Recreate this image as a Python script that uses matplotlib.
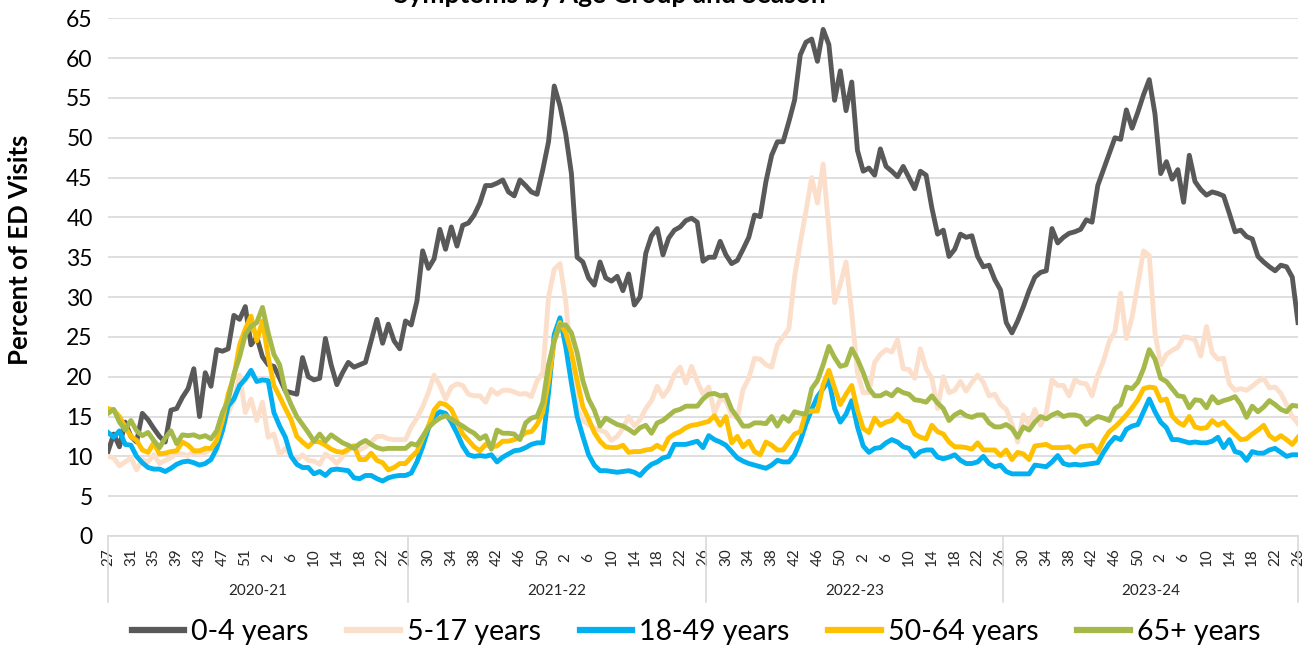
import numpy as np
import matplotlib.pyplot as plt
from matplotlib.transforms import blended_transform_factory

plt.rcParams['font.family'] = ['Lato', 'DejaVu Sans']

# seasons and their week numbers (2020-21 has a week 53)
seasons = ["2020-21", "2021-22", "2022-23", "2023-24"]
season_weeks = [
    list(range(27, 54)) + list(range(1, 27)),
    list(range(27, 53)) + list(range(1, 27)),
    list(range(27, 53)) + list(range(1, 27)),
    list(range(27, 53)) + list(range(1, 27)),
]
weeks = [w for s in season_weeks for w in s]

age_0_4 = [
    10.6, 12.8, 11.2, 14.3, 12.5, 11.8, 15.4, 14.6, 13.5, 12.5,
    11.8, 15.8, 16.0, 17.4, 18.5, 21.0, 15.0, 20.5, 18.8, 23.4,
    23.2, 23.5, 27.7, 27.2, 28.8, 24.0, 25.0, 22.5, 21.5, 21.3,
    19.8, 18.2, 18.0, 17.8, 22.4, 20.0, 19.6, 19.8, 24.8, 21.5,
    19.0, 20.5, 21.8, 21.2, 21.5, 21.8, 24.5, 27.2, 24.2, 26.6,
    24.5, 23.5, 27.0, 26.5, 29.5, 35.8, 33.6, 34.8, 38.5, 36.0,
    38.8, 36.4, 39.0, 39.3, 40.3, 41.8, 44.0, 44.0, 44.3, 44.7,
    43.2, 42.7, 44.7, 44.0, 43.2, 42.9, 46.0, 49.5, 56.5, 54.0,
    50.5, 45.5, 35.0, 34.4, 32.4, 31.5, 34.4, 32.4, 32.0, 32.6,
    30.8, 32.9, 29.0, 30.0, 35.5, 37.7, 38.6, 35.3, 37.4, 38.4,
    38.8, 39.6, 39.9, 39.4, 34.5, 35.0, 35.0, 37.0, 35.3, 34.2,
    34.6, 36.0, 37.5, 40.3, 40.1, 44.5, 47.8, 49.5, 49.5, 52.0,
    54.7, 60.4, 62.0, 62.4, 59.6, 63.6, 61.7, 54.7, 58.4, 53.4,
    57.0, 48.4, 45.8, 46.2, 45.3, 48.6, 46.4, 45.8, 45.1, 46.4,
    45.0, 43.6, 45.8, 45.3, 41.2, 37.9, 38.4, 35.1, 36.0, 37.9,
    37.5, 37.7, 35.1, 33.8, 34.0, 32.2, 30.9, 26.8, 25.5, 27.0,
    28.8, 30.8, 32.5, 33.1, 33.3, 38.6, 36.8, 37.5, 38.0, 38.2,
    38.5, 39.7, 39.4, 44.0, 46.0, 48.0, 50.0, 49.8, 53.5, 51.2,
    53.2, 55.4, 57.3, 53.0, 45.5, 47.0, 44.8, 46.0, 41.9, 47.8,
    44.5, 43.5, 42.8, 43.2, 43.0, 42.7, 40.5, 38.2, 38.4, 37.6,
    37.3, 35.1, 34.4, 33.8, 33.3, 34.0, 33.8, 32.5, 26.8,
]

age_5_17 = [
    10.0, 9.8, 8.8, 9.3, 9.8, 8.3, 9.6, 9.3, 10.2, 9.1,
    9.5, 9.8, 10.4, 10.3, 10.1, 10.6, 10.2, 10.5, 10.9, 11.8,
    13.5, 15.5, 17.0, 20.2, 15.5, 17.2, 14.5, 16.8, 12.4, 12.8,
    10.2, 11.0, 10.0, 9.5, 10.2, 9.5, 9.4, 9.0, 10.3, 9.8,
    9.1, 10.0, 10.8, 11.4, 10.8, 11.2, 11.8, 12.5, 12.5, 12.2,
    12.1, 12.1, 12.1, 13.7, 14.8, 16.2, 18.0, 20.2, 18.9, 17.2,
    18.7, 19.1, 18.9, 17.8, 17.6, 17.6, 16.8, 18.4, 17.8, 18.3,
    18.3, 18.1, 17.8, 17.9, 17.5, 19.5, 20.5, 30.0, 33.5, 34.2,
    29.5, 22.0, 16.0, 14.5, 14.0, 13.5, 13.3, 13.0, 12.0, 12.5,
    13.5, 15.0, 13.8, 14.6, 16.0, 17.0, 18.8, 17.5, 18.5, 20.3,
    21.2, 19.2, 21.3, 19.4, 17.8, 18.7, 15.4, 17.2, 17.0, 15.2,
    14.8, 18.4, 19.8, 22.3, 22.2, 21.5, 21.2, 24.0, 25.0, 26.0,
    32.5, 36.8, 40.8, 45.0, 41.8, 46.7, 38.5, 29.3, 31.6, 34.4,
    28.0, 20.5, 18.0, 18.0, 21.8, 22.8, 23.4, 23.1, 24.6, 21.0,
    20.9, 19.8, 23.5, 21.0, 19.8, 16.0, 20.0, 18.0, 18.3, 19.4,
    18.2, 19.3, 20.2, 19.3, 17.6, 17.8, 16.5, 15.9, 14.1, 11.8,
    15.2, 13.9, 15.9, 13.9, 15.5, 19.6, 18.9, 18.9, 17.6, 19.6,
    19.2, 19.1, 17.6, 20.2, 22.0, 24.4, 25.7, 30.5, 24.8, 27.5,
    31.6, 35.8, 35.2, 25.5, 21.5, 22.8, 23.3, 23.7, 25.0, 24.9,
    24.6, 22.6, 26.3, 23.0, 22.2, 22.3, 19.1, 18.3, 18.5, 18.3,
    18.8, 19.4, 19.8, 18.6, 18.7, 17.9, 16.5, 15.0, 14.1,
]

age_18_49 = [
    13.0, 12.4, 13.2, 11.5, 11.4, 10.0, 9.2, 8.6, 8.4, 8.4,
    8.1, 8.5, 9.0, 9.3, 9.4, 9.2, 8.9, 9.1, 9.6, 11.0,
    13.2, 16.3, 17.2, 18.9, 19.7, 20.8, 19.4, 19.6, 19.5, 15.5,
    13.8, 12.4, 10.0, 9.0, 8.6, 8.6, 7.8, 8.1, 7.6, 8.3,
    8.4, 8.3, 8.2, 7.3, 7.2, 7.6, 7.6, 7.2, 6.9, 7.3,
    7.5, 7.6, 7.6, 7.9, 9.3, 11.2, 13.5, 15.0, 15.6, 15.4,
    14.3, 12.9, 11.3, 10.2, 10.0, 10.1, 10.0, 10.2, 9.3, 9.9,
    10.3, 10.7, 10.8, 11.1, 11.5, 11.7, 11.7, 18.0, 25.3, 27.4,
    23.8, 19.2, 15.0, 12.5, 10.2, 8.9, 8.2, 8.2, 8.1, 8.0,
    8.1, 8.2, 8.0, 7.6, 8.4, 9.0, 9.3, 9.8, 10.0, 11.5,
    11.5, 11.5, 11.7, 11.9, 11.1, 12.6, 12.1, 11.8, 11.4, 10.6,
    9.8, 9.4, 9.1, 8.9, 8.7, 8.5, 8.9, 9.5, 9.3, 9.3,
    10.2, 11.9, 14.1, 15.9, 17.5, 18.5, 19.6, 16.0, 14.3, 15.3,
    17.0, 13.7, 11.3, 10.5, 11.0, 11.1, 11.7, 12.1, 11.8, 11.2,
    11.0, 10.0, 10.6, 10.8, 10.8, 9.9, 9.7, 9.9, 10.2, 9.5,
    9.1, 9.1, 9.3, 10.0, 9.1, 8.7, 8.9, 8.1, 7.8, 7.8,
    7.8, 7.8, 8.9, 8.8, 8.7, 9.3, 10.1, 9.1, 8.9, 9.0,
    8.9, 9.0, 9.1, 9.2, 10.5, 11.6, 12.4, 12.1, 13.4, 13.8,
    14.0, 15.6, 17.2, 15.6, 14.3, 13.6, 12.1, 12.1, 11.9, 11.7,
    11.8, 11.7, 11.7, 11.9, 12.4, 11.1, 12.1, 10.6, 10.4, 9.5,
    10.6, 10.4, 10.4, 10.8, 11.0, 10.5, 10.0, 10.2, 10.2,
]

age_50_64 = [
    16.0, 15.8, 15.0, 13.7, 12.5, 12.0, 10.8, 10.5, 11.7, 10.3,
    10.4, 10.6, 10.7, 11.8, 11.4, 10.7, 10.7, 11.0, 11.0, 12.0,
    14.5, 17.8, 20.0, 24.0, 26.0, 27.6, 24.5, 27.0, 22.5, 18.9,
    17.5, 16.0, 14.6, 12.5, 11.8, 11.2, 11.9, 11.8, 11.4, 10.9,
    10.6, 10.5, 10.9, 11.3, 9.6, 9.6, 10.4, 9.5, 9.2, 8.3,
    8.6, 9.1, 9.1, 9.9, 10.6, 12.3, 13.8, 15.8, 16.7, 16.5,
    15.9, 14.4, 12.8, 12.0, 11.2, 10.7, 11.5, 11.2, 11.3, 11.9,
    11.9, 12.1, 12.4, 13.0, 13.1, 14.0, 15.5, 19.5, 24.5, 26.8,
    25.5, 23.0, 19.5, 16.2, 14.7, 13.0, 11.9, 11.2, 11.1, 11.1,
    11.4, 10.5, 10.6, 10.6, 10.8, 10.9, 11.4, 10.9, 12.3, 12.8,
    13.1, 13.6, 13.9, 14.0, 14.2, 14.4, 15.1, 13.9, 15.0, 11.7,
    12.5, 11.2, 11.9, 10.6, 10.2, 11.8, 11.4, 10.8, 10.8, 11.8,
    12.8, 13.1, 15.5, 15.7, 15.7, 19.0, 20.8, 18.6, 16.5, 17.8,
    18.9, 15.8, 13.5, 13.0, 14.8, 13.9, 14.3, 14.5, 15.3, 14.5,
    14.3, 12.8, 12.4, 12.2, 13.9, 13.1, 12.8, 11.8, 11.2, 11.2,
    11.1, 10.9, 11.7, 10.8, 10.8, 10.8, 10.1, 10.8, 9.6, 10.5,
    10.3, 9.6, 11.3, 11.4, 11.5, 11.1, 11.1, 11.1, 11.2, 10.5,
    11.2, 11.3, 11.4, 10.5, 12.0, 13.1, 13.7, 14.4, 15.2, 16.1,
    17.1, 18.5, 18.7, 18.6, 17.0, 17.2, 15.1, 14.3, 13.9, 15.0,
    13.7, 13.5, 13.6, 14.5, 13.9, 14.3, 13.5, 12.8, 12.1, 12.2,
    12.8, 13.3, 13.9, 12.6, 12.1, 12.6, 12.1, 11.5, 12.4,
]

age_65p = [
    15.4, 15.9, 14.3, 13.3, 14.5, 13.2, 12.6, 13.0, 12.0, 11.1,
    12.3, 13.2, 11.6, 12.7, 12.6, 12.7, 12.4, 12.6, 12.2, 13.2,
    15.5, 17.0, 20.3, 22.5, 25.3, 26.3, 26.8, 28.7, 25.5, 22.8,
    21.5, 18.2, 16.5, 15.0, 14.0, 13.0, 11.9, 12.8, 11.9, 12.7,
    12.2, 11.7, 11.4, 11.0, 11.6, 12.0, 11.5, 11.1, 10.9, 11.0,
    11.0, 11.0, 11.0, 11.6, 11.4, 12.5, 13.6, 14.3, 14.8, 15.1,
    14.7, 14.2, 13.8, 13.3, 12.9, 12.2, 12.6, 10.9, 13.3, 12.9,
    12.9, 12.8, 12.1, 14.2, 14.8, 15.0, 16.8, 21.5, 24.5, 26.5,
    26.5, 25.5, 23.0, 19.5, 17.2, 15.8, 13.8, 14.8, 14.4, 14.0,
    13.8, 13.4, 12.9, 13.6, 13.9, 12.9, 14.2, 14.5, 15.1, 15.7,
    15.9, 16.3, 16.3, 16.3, 17.2, 17.8, 17.9, 17.6, 17.7, 15.9,
    14.9, 13.8, 13.8, 14.2, 14.2, 14.1, 15.0, 13.8, 15.0, 14.4,
    15.6, 15.4, 15.3, 18.5, 19.5, 21.5, 23.8, 22.4, 21.3, 21.5,
    23.5, 22.2, 20.5, 18.5, 17.6, 17.6, 18.0, 17.6, 18.4, 18.0,
    17.8, 17.1, 17.0, 16.8, 17.6, 16.7, 16.0, 14.5, 15.2, 15.6,
    15.1, 14.9, 15.2, 15.2, 14.2, 13.7, 13.7, 14.0, 13.5, 12.4,
    13.7, 13.3, 14.3, 15.0, 14.7, 15.2, 15.5, 15.0, 15.2, 15.2,
    15.0, 14.0, 14.6, 15.0, 14.8, 14.5, 16.0, 16.5, 18.7, 18.5,
    19.3, 21.0, 23.4, 22.2, 19.8, 19.4, 18.5, 17.6, 17.5, 16.1,
    17.1, 17.0, 16.1, 17.5, 16.7, 17.0, 17.2, 17.5, 16.5, 14.9,
    16.3, 15.6, 16.2, 17.0, 16.5, 15.9, 15.6, 16.4, 16.3,
]

series = [
    ("0-4 years", age_0_4, "#595959"),
    ("5-17 years", age_5_17, "#FCDFCB"),
    ("18-49 years", age_18_49, "#00B0F0"),
    ("50-64 years", age_50_64, "#FFC000"),
    ("65+ years", age_65p, "#A5B94B"),
]

W, H = 1304, 648
fig = plt.figure(figsize=(W / 100, H / 100), dpi=100)
ax = fig.add_axes([108 / W, 1 - 536 / H, (1298 - 108) / W, (536 - 18.3) / H])

x = np.arange(len(weeks))
for name, vals, col in series:
    ax.plot(x, vals, color=col, lw=3.5, label=name, solid_joinstyle='round')

ax.set_xlim(0, len(weeks) - 1)
ax.set_ylim(0, 65)
ax.set_yticks(range(0, 70, 5))
ax.yaxis.grid(True, color='#D9D9D9', lw=1.2)
ax.set_axisbelow(True)
for s in ['top', 'right', 'left']:
    ax.spines[s].set_visible(False)
ax.spines['bottom'].set_color('#D9D9D9')
ax.spines['bottom'].set_linewidth(1.2)

ax.tick_params(axis='y', length=0, pad=11, labelsize=16.5, labelcolor='black')
tick_pos = x[::4]
ax.set_xticks(tick_pos)
ax.set_xticklabels([str(weeks[i]) for i in tick_pos], rotation=90, va='center', ha='center')
ax.tick_params(axis='x', length=0, pad=15.5, labelsize=11, labelcolor='#262626')

# season group lines and labels under the week numbers
trans = blended_transform_factory(ax.transData, ax.transAxes)
bottom = -(602 - 536) / (536 - 18.3)
lengths = [len(s) for s in season_weeks]
edges = [0] + [c - 0.5 for c in np.cumsum(lengths)[:-1]] + [len(weeks) - 1]
for e in edges:
    ax.plot([e, e], [0, bottom], color='#D9D9D9', lw=1.2, transform=trans, clip_on=False)
for i, name in enumerate(seasons):
    ax.text((edges[i] + edges[i + 1]) / 2, -(591 - 536) / (536 - 18.3), name,
            transform=trans, ha='center', va='center', fontsize=11, color='#262626')

fig.text(20 / W, 1 - 250 / H, "Percent of ED Visits", rotation=90, ha='center', va='center',
         fontsize=18.5, fontweight='bold')
fig.text(610 / W, 1 - 3 / H, "Symptoms by Age Group and Season", ha='center', va='baseline',
         fontsize=19, fontweight='bold')

leg = fig.legend(loc='center', bbox_to_anchor=(696 / W, 1 - 632 / H), ncol=5, frameon=False,
                 fontsize=20.5, handlelength=1.85, handletextpad=0.25, columnspacing=1.35)
for h in leg.get_lines():
    h.set_linewidth(4.5)

fig.savefig("out.png", dpi=100)
